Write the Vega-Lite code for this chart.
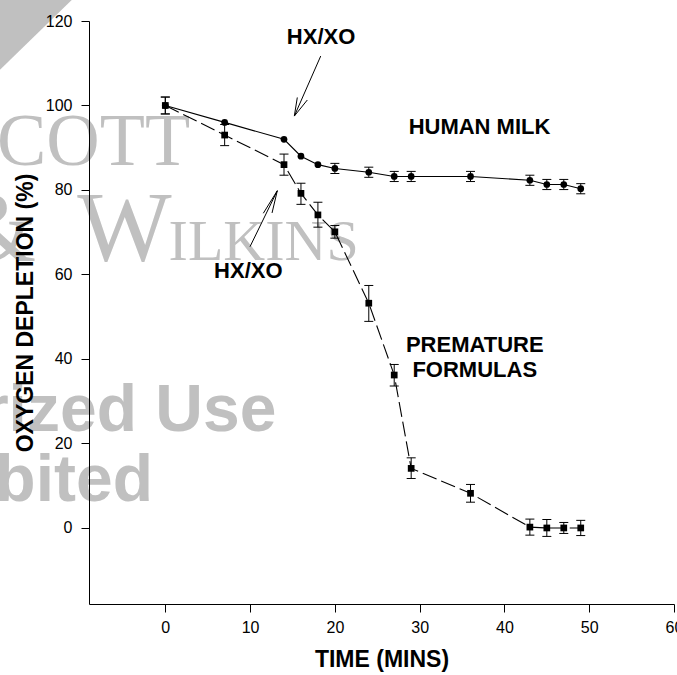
{
  "$schema": "https://vega.github.io/schema/vega-lite/v6.json",
  "width": 585,
  "height": 583,
  "autosize": "none",
  "padding": {"left": 89, "top": 21, "right": 3, "bottom": 71},
  "background": "white",
  "config": {"view": {"stroke": null}, "font": "Liberation Sans"},
  "datasets": {
    "pts": [
      {"series": "HM", "t": 0, "v": 100, "lo": 98, "hi": 102},
      {"series": "HM", "t": 7, "v": 96, "lo": null, "hi": null},
      {"series": "HM", "t": 14, "v": 92, "lo": null, "hi": null},
      {"series": "HM", "t": 16, "v": 88, "lo": null, "hi": null},
      {"series": "HM", "t": 18, "v": 86, "lo": null, "hi": null},
      {"series": "HM", "t": 20, "v": 85.1, "lo": 83.9, "hi": 86.3},
      {"series": "HM", "t": 24, "v": 84.2, "lo": 83, "hi": 85.4},
      {"series": "HM", "t": 27, "v": 83.2, "lo": 82, "hi": 84.4},
      {"series": "HM", "t": 29, "v": 83.2, "lo": 82, "hi": 84.4},
      {"series": "HM", "t": 36, "v": 83.2, "lo": 82, "hi": 84.4},
      {"series": "HM", "t": 43, "v": 82.3, "lo": 81.1, "hi": 83.5},
      {"series": "HM", "t": 45, "v": 81.3, "lo": 80.1, "hi": 82.5},
      {"series": "HM", "t": 47, "v": 81.3, "lo": 80.1, "hi": 82.5},
      {"series": "HM", "t": 49, "v": 80.3, "lo": 79.1, "hi": 81.5},
      {"series": "PF", "t": 0, "v": 100, "lo": 98, "hi": 102},
      {"series": "PF", "t": 7, "v": 93, "lo": 90.5, "hi": 95.5},
      {"series": "PF", "t": 14, "v": 86, "lo": 83.5, "hi": 88.5},
      {"series": "PF", "t": 16, "v": 79.2, "lo": 76.6, "hi": 81.6},
      {"series": "PF", "t": 18, "v": 74.1, "lo": 71.2, "hi": 77.1},
      {"series": "PF", "t": 20, "v": 70.1, "lo": 68.6, "hi": 71.6},
      {"series": "PF", "t": 24, "v": 53.2, "lo": 48.9, "hi": 57.4},
      {"series": "PF", "t": 27, "v": 36.2, "lo": 33.6, "hi": 38.7},
      {"series": "PF", "t": 29, "v": 14.1, "lo": 11.7, "hi": 16.6},
      {"series": "PF", "t": 36, "v": 8.2, "lo": 6.1, "hi": 10.3},
      {"series": "PF", "t": 43, "v": 0.2, "lo": -1.7, "hi": 2.1},
      {"series": "PF", "t": 45, "v": 0, "lo": -2, "hi": 2},
      {"series": "PF", "t": 47, "v": 0, "lo": -1.3, "hi": 1.3},
      {"series": "PF", "t": 49, "v": 0, "lo": -1.8, "hi": 1.8}
    ],
    "arrows": [
      {"x": 18.33, "y": 111.7, "x2": 15.22, "y2": 97.5},
      {"x": 15.57, "y": 101.9, "x2": 15.22, "y2": 97.5},
      {"x": 16.75, "y": 101.3, "x2": 15.22, "y2": 97.5},
      {"x": 9.99, "y": 66.58, "x2": 13.21, "y2": 79.83},
      {"x": 11.56, "y": 74.49, "x2": 13.21, "y2": 79.83},
      {"x": 12.59, "y": 74.56, "x2": 13.21, "y2": 79.83}
    ],
    "labels": [
      {"text": "HX/XO", "x": 18.37, "y": 116.3},
      {"text": "HX/XO", "x": 9.79, "y": 60.8},
      {"text": "HUMAN MILK", "x": 37.06, "y": 95.0},
      {"text": "PREMATURE", "x": 36.5, "y": 43.4},
      {"text": "FORMULAS", "x": 36.5, "y": 37.4}
    ],
    "tri": [
      {"x": -21, "y": 127, "y2": 105.5},
      {"x": -10, "y": 127, "y2": 127}
    ],
    "wm": [
      {"grp": "serif", "text": "COTT", "x": -8.47, "y": 85.92},
      {"grp": "big", "text": "&", "x": -19.8, "y": 63.43},
      {"grp": "big", "text": "W", "x": -4.81, "y": 63.43},
      {"grp": "small", "text": "ILKINS", "x": 11.6, "y": 63.43},
      {"grp": "bold", "text": "Unauthorized Use", "x": 13.1, "y": 22.96},
      {"grp": "bold", "text": "Prohibited", "x": -1.45, "y": 6.46}
    ]
  },
  "layer": [
    {
      "data": {"name": "pts"},
      "transform": [{"filter": "datum.series == 'HM'"}],
      "mark": {"type": "line", "color": "black", "strokeWidth": 1.1, "opacity": 0},
      "encoding": {
        "x": {
          "field": "t", "type": "quantitative",
          "scale": {"domain": [-9, 60], "nice": false, "zero": false},
          "axis": {
            "title": "TIME (MINS)",
            "values": [0, 10, 20, 30, 40, 50, 60],
            "grid": false,
            "zindex": 1,
            "domainColor": "black",
            "tickColor": "black",
            "tickSize": 8,
            "labelFont": "Liberation Sans",
            "labelFontSize": 16,
            "labelColor": "black",
            "labelPadding": 7,
            "labelFlush": false,
            "labelOverlap": false,
            "titleFont": "Liberation Sans",
            "titleFontSize": 23,
            "titleFontWeight": "bold",
            "titleColor": "black",
            "titlePadding": 13
          }
        },
        "y": {
          "field": "v", "type": "quantitative",
          "scale": {"domain": [-18, 120], "nice": false, "zero": false},
          "axis": {
            "title": "OXYGEN DEPLETION (%)",
            "values": [0, 20, 40, 60, 80, 100, 120],
            "grid": false,
            "zindex": 1,
            "domainColor": "black",
            "tickColor": "black",
            "tickSize": 8,
            "labelFont": "Liberation Sans",
            "labelFontSize": 16,
            "labelColor": "black",
            "labelPadding": 9,
            "labelFlush": false,
            "labelOverlap": false,
            "titleFont": "Liberation Sans",
            "titleFontSize": 23,
            "titleFontWeight": "bold",
            "titleColor": "black",
            "titlePadding": 8
          }
        }
      }
    },
    {
      "data": {"name": "tri"},
      "mark": {"type": "area", "color": "#c0c0c0", "clip": false},
      "encoding": {
        "x": {"field": "x", "type": "quantitative"},
        "y": {"field": "y", "type": "quantitative"},
        "y2": {"field": "y2"}
      }
    },
    {
      "data": {"name": "wm"},
      "transform": [{"filter": "datum.grp == 'serif'"}],
      "mark": {"type": "text", "font": "Liberation Serif", "fontSize": 74, "color": "#c0c0c0", "align": "center", "baseline": "alphabetic"},
      "encoding": {
        "x": {"field": "x", "type": "quantitative"},
        "y": {"field": "y", "type": "quantitative"},
        "text": {"field": "text"}
      }
    },
    {
      "data": {"name": "wm"},
      "transform": [{"filter": "datum.grp == 'big'"}],
      "mark": {"type": "text", "font": "Liberation Serif", "fontSize": 100, "color": "#c0c0c0", "align": "center", "baseline": "alphabetic"},
      "encoding": {
        "x": {"field": "x", "type": "quantitative"},
        "y": {"field": "y", "type": "quantitative"},
        "text": {"field": "text"}
      }
    },
    {
      "data": {"name": "wm"},
      "transform": [{"filter": "datum.grp == 'small'"}],
      "mark": {"type": "text", "font": "Liberation Serif", "fontSize": 58, "color": "#c0c0c0", "align": "center", "baseline": "alphabetic"},
      "encoding": {
        "x": {"field": "x", "type": "quantitative"},
        "y": {"field": "y", "type": "quantitative"},
        "text": {"field": "text"}
      }
    },
    {
      "data": {"name": "wm"},
      "transform": [{"filter": "datum.grp == 'bold'"}],
      "mark": {"type": "text", "font": "Liberation Sans", "fontWeight": "bold", "fontSize": 66, "color": "#c0c0c0", "align": "right", "baseline": "alphabetic"},
      "encoding": {
        "x": {"field": "x", "type": "quantitative"},
        "y": {"field": "y", "type": "quantitative"},
        "text": {"field": "text"}
      }
    },
    {
      "data": {"name": "pts"},
      "mark": {"type": "rule", "color": "black", "strokeWidth": 1},
      "encoding": {
        "x": {"field": "t", "type": "quantitative"},
        "y": {"field": "lo", "type": "quantitative"},
        "y2": {"field": "hi"}
      }
    },
    {
      "data": {"name": "pts"},
      "mark": {"type": "tick", "orient": "horizontal", "size": 9, "thickness": 1, "color": "black", "opacity": 1},
      "encoding": {
        "x": {"field": "t", "type": "quantitative"},
        "y": {"field": "lo", "type": "quantitative"}
      }
    },
    {
      "data": {"name": "pts"},
      "mark": {"type": "tick", "orient": "horizontal", "size": 9, "thickness": 1, "color": "black", "opacity": 1},
      "encoding": {
        "x": {"field": "t", "type": "quantitative"},
        "y": {"field": "hi", "type": "quantitative"}
      }
    },
    {
      "data": {"name": "pts"},
      "transform": [{"filter": "datum.series == 'HM'"}],
      "mark": {"type": "line", "color": "black", "strokeWidth": 1.1},
      "encoding": {
        "x": {"field": "t", "type": "quantitative"},
        "y": {"field": "v", "type": "quantitative"}
      }
    },
    {
      "data": {"name": "pts"},
      "transform": [{"filter": "datum.series == 'PF'"}],
      "mark": {"type": "line", "color": "black", "strokeWidth": 1.1, "strokeDash": [15, 5]},
      "encoding": {
        "x": {"field": "t", "type": "quantitative"},
        "y": {"field": "v", "type": "quantitative"}
      }
    },
    {
      "data": {"name": "pts"},
      "transform": [{"filter": "datum.series == 'HM'"}],
      "mark": {"type": "point", "shape": "circle", "filled": true, "color": "black", "opacity": 1, "size": 45},
      "encoding": {
        "x": {"field": "t", "type": "quantitative"},
        "y": {"field": "v", "type": "quantitative"}
      }
    },
    {
      "data": {"name": "pts"},
      "transform": [{"filter": "datum.series == 'PF'"}],
      "mark": {"type": "point", "shape": "square", "filled": true, "color": "black", "opacity": 1, "size": 45},
      "encoding": {
        "x": {"field": "t", "type": "quantitative"},
        "y": {"field": "v", "type": "quantitative"}
      }
    },
    {
      "data": {"name": "arrows"},
      "mark": {"type": "rule", "color": "black", "strokeWidth": 1},
      "encoding": {
        "x": {"field": "x", "type": "quantitative"},
        "y": {"field": "y", "type": "quantitative"},
        "x2": {"field": "x2"},
        "y2": {"field": "y2"}
      }
    },
    {
      "data": {"name": "labels"},
      "mark": {"type": "text", "font": "Liberation Sans", "fontWeight": "bold", "fontSize": 22, "color": "black", "align": "center", "baseline": "middle"},
      "encoding": {
        "x": {"field": "x", "type": "quantitative"},
        "y": {"field": "y", "type": "quantitative"},
        "text": {"field": "text"}
      }
    }
  ]
}
